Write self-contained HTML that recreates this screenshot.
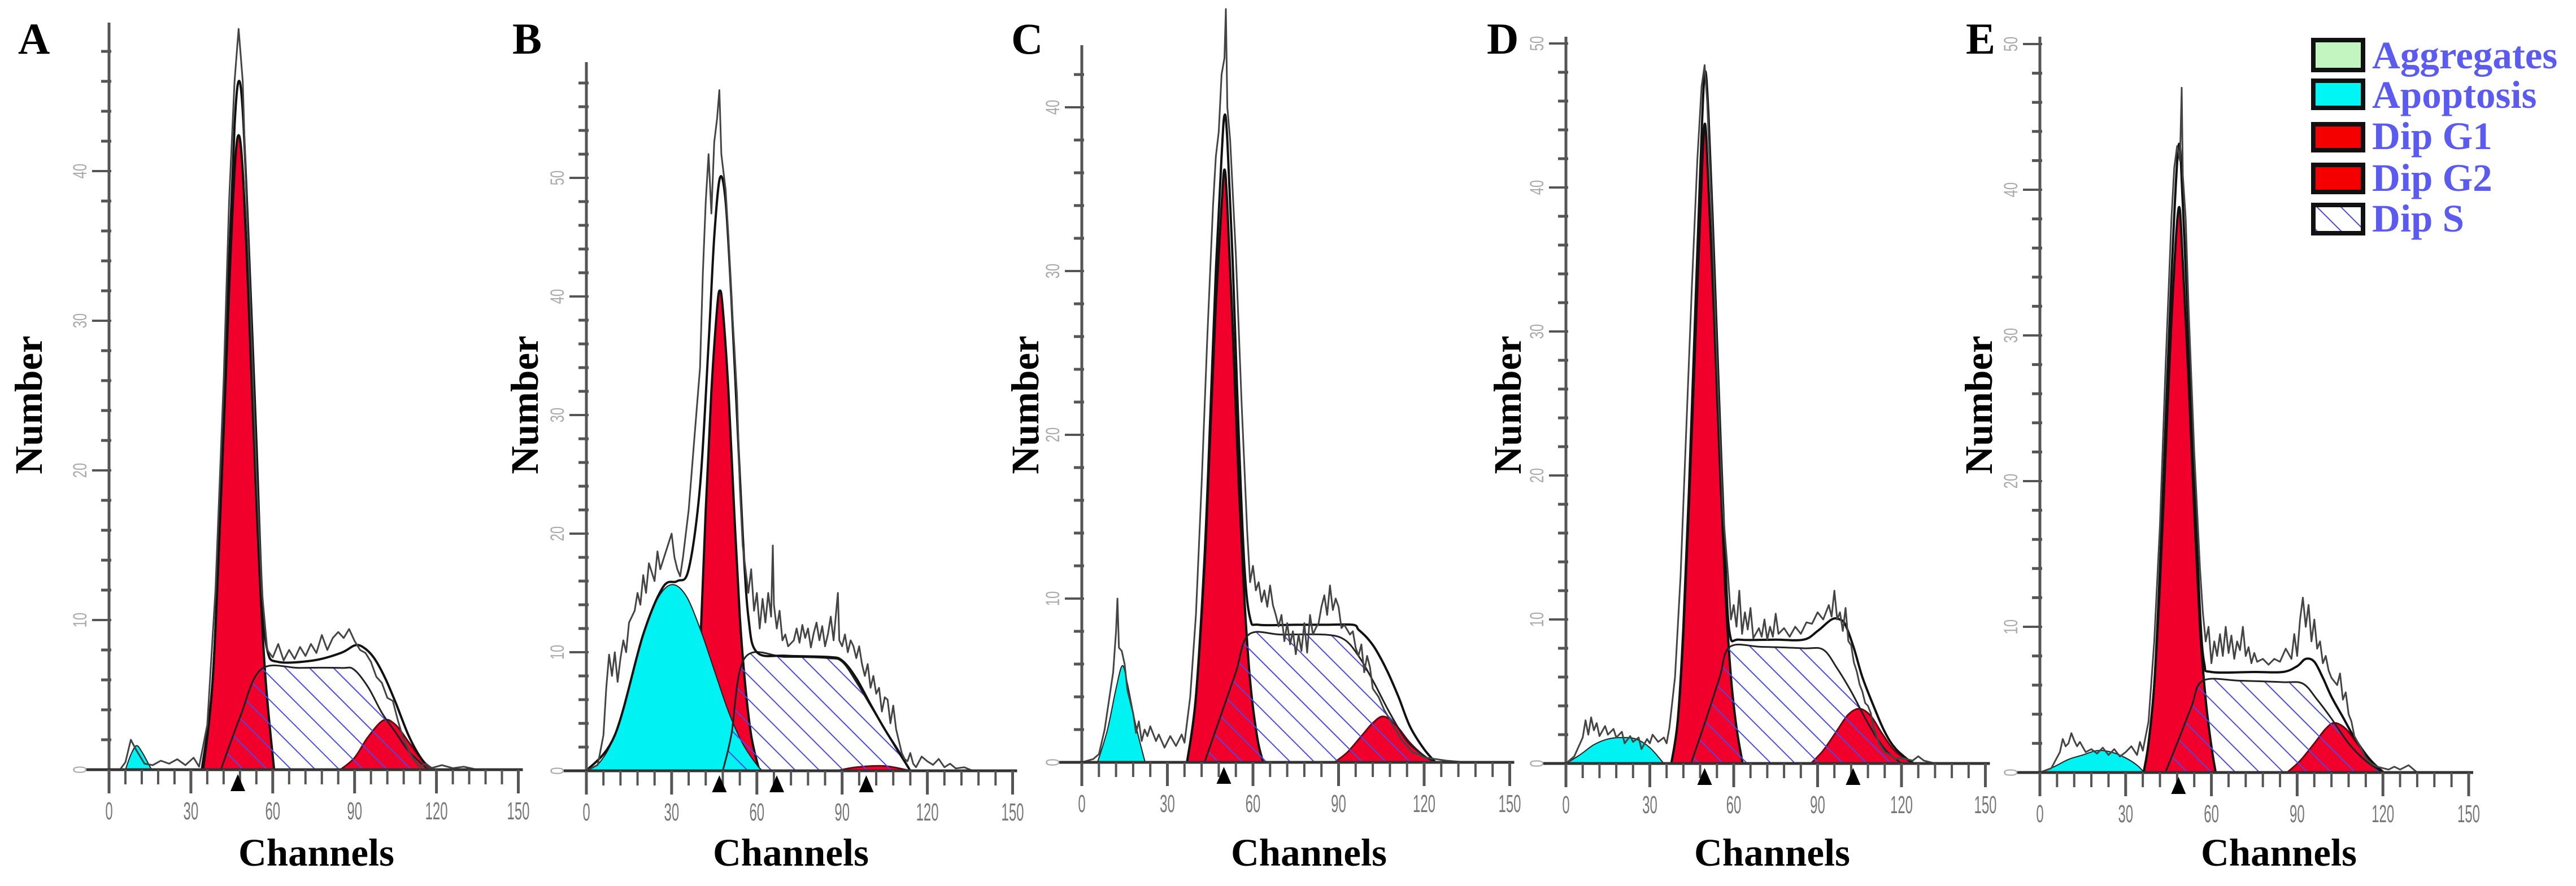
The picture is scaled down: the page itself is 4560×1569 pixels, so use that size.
<!DOCTYPE html>
<html><head><meta charset="utf-8">
<style>
html,body{margin:0;padding:0;background:#fff;}
svg{display:block;}
.lbl{font-family:"Liberation Serif",serif;font-weight:bold;}
</style></head>
<body>
<svg id="fig" width="4560" height="1569" viewBox="0 0 4560 1569" xmlns="http://www.w3.org/2000/svg">
<defs>
<pattern id="hatch" patternUnits="userSpaceOnUse" width="30" height="30" patternTransform="rotate(-45)">
<rect x="0" y="0" width="30" height="30" fill="none"/>
<line x1="0" y1="0" x2="0" y2="30" stroke="#4a4ae6" stroke-width="4"/>
</pattern>
</defs>
<g id="panels"></g>
<g id="legend">
<g><rect x="4095" y="71" width="88" height="53" fill="#c3f5c0" stroke="#111" stroke-width="8"/><text class="lbl" x="4199" y="121" font-size="69" fill="#5b5bf0">Aggregates</text></g>
<g><rect x="4095" y="143" width="88" height="48" fill="#00f5f5" stroke="#111" stroke-width="8"/><text class="lbl" x="4199" y="191" font-size="69" fill="#5b5bf0">Apoptosis</text></g>
<g><rect x="4095" y="220" width="88" height="46" fill="#f50000" stroke="#111" stroke-width="8"/><text class="lbl" x="4199" y="264" font-size="69" fill="#5b5bf0">Dip G1</text></g>
<g><rect x="4095" y="292" width="88" height="48" fill="#f50000" stroke="#111" stroke-width="8"/><text class="lbl" x="4199" y="338" font-size="69" fill="#5b5bf0">Dip G2</text></g>
<g><rect x="4095" y="363" width="88" height="50" fill="#fff" stroke="#111" stroke-width="8"/><rect x="4099" y="367" width="80" height="42" fill="url(#hatch)"/><text class="lbl" x="4199" y="410" font-size="69" fill="#5b5bf0">Dip S</text></g>
</g>
</svg>
<script>
// ---- data (channels, counts in units where major tick = 10) ----
const xTickLabels = ["0","30","60","90","120","150"];
const yTickLabels = ["0","10","20","30","40"];
const panelLetters = ["A","B","C","D","E"];

const aApop=[[6,0],[8,1],[10,1.6],[12,1.2],[15.6,0]];
const aG1=[[34.5,0],[38,6],[41,18],[44,32],[46,40],[47.5,42.4],[49,40],[51,32],[54,18],[57,7],[60.5,0]];
const aS=[[41,0],[48,3.5],[55.7,6.7],[70,6.8],[85,6.8],[89.7,6.7],[95,5.5],[100,3.8],[105,2.5],[110,1.2],[117,0]];
const aG2=[[84.8,0],[90,0.8],[95,2.2],[100.6,3.3],[105,3.0],[110,1.8],[115,0.6],[119,0]];
const aFit=[[34,0],[38,6],[41,19],[44,34],[46,43],[47.5,46],[49,44],[51,36],[54,22],[56,12],[58,8],[62,7.2],[75,7.3],[85,7.8],[90,8.3],[93,8.2],[97,7.5],[101,6.2],[105,4.5],[110,2.2],[115,0.6],[119,0]];
const aRaw=[[0,0],[4,0],[6,0.5],[8,2],[10,1.3],[13,0.4],[16,0.3],[19,0.6],[22,0.4],[25,0.7],[28,0.3],[31,0.8],[33,0.2],[36,3],[39,12],[42,26],[44,38],[46,46],[47.5,49.5],[49,46],[50,40],[52,30],[54,20],[56,12],[57,10],[58,8],[60,7.5],[62,8.4],[64,7.3],[66,8],[68,7.4],[70,8.2],[72,7.6],[74,8.4],[76,7.8],[78,9],[80,8],[82,8.8],[84,9.2],[86,8.8],[88,9.4],[90,8.6],[92,8],[94,7.8],[96,7.2],[98,6.2],[100,5.8],[102,4.8],[104,4.6],[106,3.2],[108,2],[110,1.2],[112,0.6],[114,0.2],[116,0.4],[118,0.1],[122,0.3],[126,0.1],[130,0.2],[135,0]];
const aMarks=[47.2];

const bApop=[[0,0],[5,0.8],[10,3],[15,7],[20,11.5],[25,14.5],[30,15.7],[35,14.8],[40,12],[45,8.5],[50,5],[55,2.3],[60,0.5],[62,0]];
const bG1=[[38,0],[40,10],[42,22],[44,32],[46,39],[47,40.5],[48,39],[50,32],[52,22],[54,13],[56,7],[58,3],[60,0.8],[61,0]];
const bS=[[48,0],[51,3],[55.7,9.5],[70,9.6],[85,9.5],[90,9.2],[95,7.5],[100,5.5],[105,3.5],[110,1.5],[114,0]];
const bG2=[[88,0],[95,0.3],[105,0.4],[114,0]];
const bFit=[[0,0],[10,3],[20,11.5],[27,15.5],[32,16],[36,17],[40,24],[43,36],[45,45],[47,50],[49,48],[51,40],[53,30],[55,20],[57,13],[60,10],[70,9.7],[85,9.6],[90,9.3],[95,7.8],[100,5.6],[105,3.5],[110,1.6],[114,0]];
const bRaw=[[0,0],[4,0.5],[6,3],[7,7],[8,9.8],[9,8],[10,10],[11,7.5],[12,9.5],[13,11],[14,10],[15,12.5],[17,13.5],[18,15],[19,14],[20,16.5],[21,15],[22,17.5],[24,16],[25,18.5],[26,17],[28,18.5],[30,20],[31,18],[32,17],[33,16.4],[34,18],[36,22],[38,28],[40,34],[41,42],[42,48],[43,52],[44,47],[45,53],[46,55],[46.8,57.4],[47.5,52],[48,51],[49,49],[50,45],[51,40],[52,36],[53,31.7],[54,24],[55,19],[56,17],[57,15],[58,17],[59,13.5],[60,15],[61,12],[62,14.5],[63,12.5],[64,15],[65,13],[65.6,19],[66,14],[67,12],[68,13.5],[69,11],[70,11.5],[71,10.5],[73,11],[74,12],[75,10.8],[76,12.3],[77,11.2],[78,12],[79,10.4],[80,11.6],[81,12.5],[82,11],[83,12.2],[84,10.5],[85,11.5],[86,13],[87,11],[88.5,15],[89,11],[90,10.5],[91,11.5],[92,10],[93,11],[94,10.5],[95,9.5],[96,10.5],[97,9],[98,8],[99,9],[100,7],[101,8],[102,6.5],[103,7],[104,5],[105,6.2],[106,6],[107,4],[108,5.5],[109,3.5],[110,2.5],[111,1.5],[112,1],[113,0.8],[114,1.5],[115,0.6],[116,0.3],[118,1.2],[120,0.8],[122,0.5],[124,1],[126,0.3],[128,0.6],[130,0.2],[133,0.3],[136,0]];
const bMarks=[46.8,67,98.5];

const cApop=[[5.5,0],[9,2],[12,4.5],[14.2,5.9],[16,4.8],[19,2.2],[22.2,0]];
const cG1=[[36.9,0],[40,4],[43,12],[45,20],[47,28],[49,34],[50,36.2],[51,34],[53,26],[55,17],[57,10],[59,5],[61.5,1.5],[63.6,0]];
const cS=[[43,0],[48,2.5],[54,5.5],[58.5,7.8],[70,7.8],[85,7.8],[92,7.5],[97,6.5],[102,5],[108,3],[114,1.3],[120,0.4],[124,0]];
const cG2=[[88.6,0],[93,0.6],[98,1.6],[102,2.4],[105.7,2.8],[110,2.3],[115,1.2],[120,0.4],[124,0]];
const cFit=[[36.9,0],[40,4],[43,12.5],[45,21],[47,30],[49,37],[50,39.5],[51,38],[53,30],[55,20],[57,12],[59,8.8],[62,8.4],[75,8.4],[85,8.4],[95,8.4],[97,8.1],[100,7.6],[103,6.9],[107,5.6],[111,4],[115,2.2],[120,0.8],[124,0]];
const cRaw=[[0,0],[4,0.2],[6,0.5],[8,2],[11,5.5],[12,8],[12.5,10],[13,7],[14,6.8],[15,6],[16,4.4],[18,3],[19,1.8],[20,2.5],[21,1.3],[22,2],[23,1.6],[24,2.2],[26,1.3],[27,1.7],[29,0.9],[31,1.6],[33,1],[35,1.7],[36,1.2],[38,4],[40,9],[42,17],[44,26],[46,34],[47,37],[48,38.5],[49,42],[50,43],[50.5,46],[51,40],[52,38],[54,31],[56,22],[58,14],[59,11],[60,12],[61,10.5],[62,11],[63,9.8],[64,10.5],[65,9.5],[66,10.8],[67,9.6],[68,9],[69,8.3],[70,9],[71,7.4],[72,8.5],[73,7.2],[74,8],[75,6.6],[76,7.8],[77,6.8],[78,8.5],[79,6.7],[80,9],[81,7.8],[82,8.2],[83,8.5],[84,9.5],[85,10.2],[86,9],[87,10.8],[88,9.3],[89,10],[90,9.5],[91,8.2],[92,8.4],[94,7.8],[95,8],[96,7],[97,6.5],[98,7.2],[99,5.5],[100,6.5],[101,5.8],[102,4.5],[104,4],[106,3.2],[108,2.6],[110,2],[112,1.4],[114,1],[116,0.6],[118,0.5],[120,0.3],[124,0.2],[128,0.1],[135,0]];
const cMarks=[49.8];

const dApop=[[0,0],[5,0.6],[10,1.3],[15,1.7],[20,1.8],[25,1.7],[30,1.1],[35,0]];
const dG1=[[37.7,0],[40,3],[42,9],[44,18],[46,28],[48,38],[49.6,44.4],[51,40],[53,31],[55,21],[57,12],[59,6],[61,2.5],[63.2,0]];
const dS=[[44.7,0],[50,3],[55,6],[58.6,8.1],[70,8.1],[85,8],[92,7.9],[97,6.6],[102,5],[108,2.8],[114,1],[120,0]];
const dG2=[[87.6,0],[92,0.9],[97,2.3],[101,3.4],[105,3.8],[109,3.3],[113,2.1],[118,0.8],[124.7,0]];
const dFit=[[37.7,0],[40,3],[42,9.5],[44,19],[46,30],[48,41],[49.6,47.9],[51,45],[53,35],[55,24],[57,14],[58.6,9],[62,8.6],[75,8.6],[85,8.6],[90,9.2],[95,10],[98,10],[100,9.6],[103,8],[106,6],[110,4],[114,2.2],[118,1],[124,0]];
const dRaw=[[0,0],[3,0.5],[6,1.8],[7,3],[8,2],[9,3.2],[10,2.3],[11,2.8],[12,1.9],[14,2.6],[15,2],[17,2.4],[18,1.8],[20,2.2],[21,1.4],[23,1.9],[24,1.5],[26,1.8],[27,1],[29,1.7],[30,1.4],[31,2],[33,1.5],[35,1.8],[36,1.4],[37,2.5],[39,6],[41,13],[43,23],[45,33],[47,42],[48.5,47],[49.6,48.5],[50.5,46],[52,39],[54,28],[56,18],[58,13],[59,10],[60,11],[61,9.5],[62,12],[63,9],[64,10.5],[65,9.3],[66,10.8],[67,8.7],[69,9.4],[70,8.8],[71,10],[72,8.6],[73,9.5],[74,8.8],[75,10.4],[76,9],[78,9.4],[80,8.8],[82,9.5],[84,9],[86,9.8],[88,9.7],[90,10.5],[92,10],[94,11],[95,10.2],[96,12],[97,10],[98,10.5],[99,9.2],[100,10.8],[101,8.5],[102,8.2],[103,7],[104,6.4],[105,5.5],[106,5],[107,4.2],[108,4],[109,3.5],[110,2.5],[112,1.4],[114,0.8],[116,0.6],[118,0.3],[120,0.4],[124,0.2],[126,0.5],[128,0.2],[132,0]];
const dMarks=[49.6,102.7];

const eApop=[[0,0],[5,0.4],[10,0.9],[15,1.2],[20,1.5],[25,1.4],[30,1],[34,0.5],[36.5,0]];
const eG1=[[36.3,0],[38,2],[40,6],[42,13],[44,22],[46,31],[48.5,38.7],[50,35],[52,27],[54,18],[56,10],[58,5],[60,1.8],[61.5,0]];
const eS=[[43.9,0],[48,2],[53,4.5],[57,6.3],[70,6.3],[85,6.2],[92,6.1],[97,5],[102,3.7],[108,2],[114,0.8],[120,0]];
const eG2=[[86.5,0],[91,0.8],[96,2],[100,3],[103,3.4],[107,3],[111,2],[116,0.8],[120.5,0]];
const eFit=[[36.3,0],[38,2],[40,6],[42,14],[44,24],[46,34],[48.5,43],[50,39],[52,30],[54,20],[56,11],[57.5,7.5],[60,6.9],[75,6.9],[85,6.9],[90,7.3],[93,7.8],[96,7.6],[99,6.5],[102,5.2],[106,3.8],[110,2.4],[115,1],[120,0]];
const eRaw=[[0,0],[4,0.3],[7,1.4],[8,2.3],[9,1.8],[10,2],[11,2.7],[12,2.2],[13,1.8],[14,2.1],[16,1.4],[18,1.6],[20,1.3],[22,1.7],[24,1.2],[26,1.6],[28,1.1],[30,1.4],[32,1.8],[34,1.2],[35,2.1],[36,1.5],[38,3.5],[40,9],[42,17],[44,28],[46,38],[47,41.5],[48,43],[49,42],[49.6,47],[50,41],[51,38],[52,32],[54,22],[56,14],[57,11],[58,9],[59,10],[60,7.5],[61,9],[62,8],[63,9.5],[64,8],[65,10],[66,8.2],[67,9.4],[68,7.8],[69,9],[70,8.4],[71,10],[72,8],[73,8.6],[74,7.5],[75,8.2],[76,7.6],[78,7.8],[80,7.4],[82,7.8],[84,7.6],[86,8.5],[88,7.8],[89,9.5],[90,8],[91,10.5],[92,12],[93,10],[94,11.5],[95,9],[96,10.5],[97,8.5],[98,9],[99,7.5],[100,8],[101,7],[102,6.5],[104,6],[105,6.8],[106,5],[107,5.5],[108,4],[109,3.5],[110,2.5],[112,1.8],[114,1],[116,0.6],[118,0.4],[120,0.3],[122,0.2],[124,0.4],[126,0.2],[129,0.5],[132,0]];
const eMarks=[48.5];

const panelData=[
 {apop:aApop,g1:aG1,s:aS,g2:aG2,fit:aFit,raw:aRaw,marks:aMarks},
 {apop:bApop,g1:bG1,s:bS,g2:bG2,fit:bFit,raw:bRaw,marks:bMarks},
 {apop:cApop,g1:cG1,s:cS,g2:cG2,fit:cFit,raw:cRaw,marks:cMarks},
 {apop:dApop,g1:dG1,s:dS,g2:dG2,fit:dFit,raw:dRaw,marks:dMarks},
 {apop:eApop,g1:eG1,s:eS,g2:eG2,fit:eFit,raw:eRaw,marks:eMarks}
];
// ---- layout ----
const layout=[
 {x0:193,pc:4.83,base:1363,pu:26.5,top:40,lx:32,ly:95,nx:51,cx:560},
 {x0:1038,pc:5.03,base:1365,pu:21,top:110,lx:907,ly:95,nx:929,cx:1400},
 {x0:1915,pc:5.05,base:1350,pu:29,top:80,lx:1790,ly:95,nx:1815,cx:2317},
 {x0:2772,pc:4.95,base:1352,pu:25.5,top:65,lx:2632,ly:95,nx:2669,cx:3137},
 {x0:3611,pc:5.06,base:1368,pu:25.8,top:65,lx:3480,ly:95,nx:3503,cx:4034}
];
const NS="http://www.w3.org/2000/svg";
function mk(tag,attrs,parent){const e=document.createElementNS(NS,tag);for(const k in attrs)e.setAttribute(k,attrs[k]);if(parent)parent.appendChild(e);return e;}
function smooth(pts){
 let d="M"+pts[0][0].toFixed(1)+","+pts[0][1].toFixed(1);
 for(let i=0;i<pts.length-1;i++){
  const p0=pts[Math.max(0,i-1)],p1=pts[i],p2=pts[i+1],p3=pts[Math.min(pts.length-1,i+2)];
  const c1=[p1[0]+(p2[0]-p0[0])/6,p1[1]+(p2[1]-p0[1])/6];
  const c2=[p2[0]-(p3[0]-p1[0])/6,p2[1]-(p3[1]-p1[1])/6];
  d+=" C"+c1[0].toFixed(1)+","+c1[1].toFixed(1)+" "+c2[0].toFixed(1)+","+c2[1].toFixed(1)+" "+p2[0].toFixed(1)+","+p2[1].toFixed(1);
 }
 return d;
}
const root=document.getElementById('panels');
layout.forEach((L,pi)=>{
 const D=panelData[pi];
 const X=c=>L.x0+c*L.pc, Y=v=>L.base-v*L.pu;
 const P=arr=>arr.map(p=>[X(p[0]),Y(p[1])]);
 const g=mk('g',{},root);
 
 
 const lt=mk('text',{x:L.lx,y:L.ly,'font-size':78,class:'lbl',fill:'#000'},g); lt.textContent=panelLetters[pi];
 
 
 const yt=mk('text',{x:0,y:0,'font-size':69,class:'lbl',fill:'#000','text-anchor':'middle',transform:`translate(${L.nx+23},717) rotate(-90)`},g); yt.textContent='Number';
 
 
 const xt=mk('text',{x:L.cx,y:1533,'font-size':69,class:'lbl',fill:'#000','text-anchor':'middle'},g); xt.textContent='Channels';
 
 
 const g1=mk('path',{d:smooth(P(D.g1))+" Z",fill:'#f2002c',stroke:'#111','stroke-width':4},g);
 
 
 const ap=mk('path',{d:smooth(P(D.apop))+" Z",fill:'#00f2f2',stroke:'#222','stroke-width':2},g);
 
 
 const g2=mk('path',{d:smooth(P(D.g2))+" Z",fill:'#f2002c',stroke:'#6a0010','stroke-width':3},g);
 
 
 const sp=mk('path',{d:smooth(P(D.s))+" Z",fill:'url(#hatch)',stroke:'#222','stroke-width':3},g);
 
 
 const ft=mk('path',{d:smooth(P(D.fit)),fill:'none',stroke:'#111','stroke-width':4},g);
 
 
 const rw=mk('polyline',{points:P(D.raw).map(p=>p[0].toFixed(1)+","+p[1].toFixed(1)).join(" "),fill:'none',stroke:'#444','stroke-width':3,'stroke-linejoin':'round'},g);
 
 
 const ya=mk('line',{x1:L.x0,y1:L.top,x2:L.x0,y2:L.base+40,stroke:'#555','stroke-width':5},g);
 
 
 for(let v=0;Y(v)>L.top+10;v+=2){
  const major=v%10===0;
  mk('line',{x1:L.x0-(major?30:14),y1:Y(v),x2:L.x0+4,y2:Y(v),stroke:'#555','stroke-width':major?4:5},g);
  if(major){const t=mk('text',{x:0,y:0,'font-size':34,fill:'#aaa','font-family':'Liberation Sans, sans-serif','text-anchor':'middle',transform:`translate(${L.x0-40},${Y(v)}) rotate(-90) scale(0.7,1)`},g);t.textContent=yTickLabels[v/10]||String(v);
   
   }
 }
 const xa=mk('line',{x1:L.x0-40,y1:L.base,x2:X(150)+8,y2:L.base,stroke:'#333','stroke-width':5},g);
 
 
 for(let c=0;c<=150;c+=6){
  const major=c%30===0;
  mk('line',{x1:X(c),y1:L.base,x2:X(c),y2:L.base+(major?42:26),stroke:'#555','stroke-width':major?5:4},g);
  if(major){const t=mk('text',{x:0,y:0,'font-size':40,fill:'#777','font-family':'Liberation Sans, sans-serif','text-anchor':'middle',transform:`translate(${X(c)},${L.base+88}) scale(0.6,1.1)`},g);t.textContent=xTickLabels[c/30];
   
   }
 }
 D.marks.forEach(m=>{
  const tr=mk('polygon',{points:`${X(m)},${L.base+8} ${X(m)-13},${L.base+38} ${X(m)+13},${L.base+38}`,fill:'#000'},g);
  
  
 });
});
</script>
</body></html>
